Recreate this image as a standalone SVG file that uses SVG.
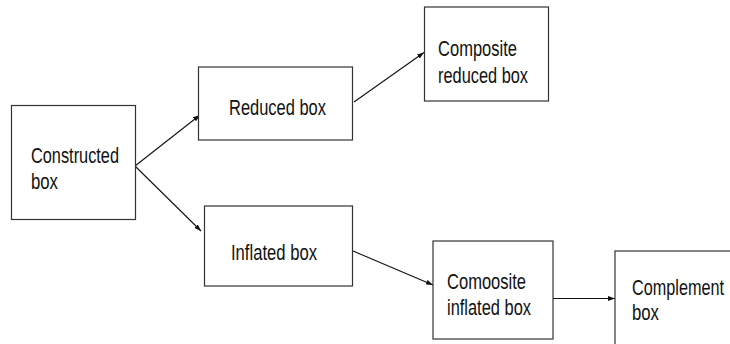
<svg xmlns="http://www.w3.org/2000/svg" width="730" height="344" viewBox="0 0 730 344">
  <defs>
    <marker id="arrow" viewBox="0 0 7 5" refX="7" refY="2.5" markerWidth="7" markerHeight="5" markerUnits="userSpaceOnUse" orient="auto">
      <path d="M0,0 L7,2.5 L0,5 z" fill="#111"/>
    </marker>
    <style>
      .box { fill: #fff; stroke: #333; stroke-width: 1.2; }
      .lbl { font-family: "Liberation Sans", Arial, Helvetica, sans-serif; font-size: 22.5px; fill: #111; }
      .edge { stroke: #111; stroke-width: 1.1; fill: none; marker-end: url(#arrow); }
    </style>
  </defs>
  <rect width="730" height="344" fill="#fff"/>

  <g id="connectors">
    <line class="edge" x1="135" y1="166" x2="200" y2="115"/>
    <line class="edge" x1="135" y1="166" x2="201" y2="231"/>
    <line class="edge" x1="354" y1="102" x2="424" y2="52.5"/>
    <line class="edge" x1="353" y1="251" x2="433" y2="285"/>
    <line class="edge" x1="553" y1="298.5" x2="615" y2="298.5"/>
  </g>

  <g id="constructed-box">
    <rect class="box" x="11.5" y="105.5" width="124" height="114"/>
    <text class="lbl" x="31" y="163" textLength="88" lengthAdjust="spacingAndGlyphs">Constructed</text>
    <text class="lbl" x="31" y="189" textLength="27" lengthAdjust="spacingAndGlyphs">box</text>
  </g>

  <g id="reduced-box">
    <rect class="box" x="198.5" y="67" width="154" height="73"/>
    <text class="lbl" x="229" y="115" textLength="97" lengthAdjust="spacingAndGlyphs">Reduced box</text>
  </g>

  <g id="composite-reduced-box">
    <rect class="box" x="424.5" y="7" width="124" height="94"/>
    <text class="lbl" x="438" y="56" textLength="79" lengthAdjust="spacingAndGlyphs">Composite</text>
    <text class="lbl" x="438" y="82.5" textLength="90" lengthAdjust="spacingAndGlyphs">reduced box</text>
  </g>

  <g id="inflated-box">
    <rect class="box" x="204.5" y="206" width="148" height="80"/>
    <text class="lbl" x="231" y="260" textLength="86" lengthAdjust="spacingAndGlyphs">Inflated box</text>
  </g>

  <g id="composite-inflated-box">
    <rect class="box" x="433" y="241" width="120" height="98"/>
    <text class="lbl" x="447" y="289" textLength="79" lengthAdjust="spacingAndGlyphs">Comoosite</text>
    <text class="lbl" x="447" y="315" textLength="84" lengthAdjust="spacingAndGlyphs">inflated box</text>
  </g>

  <!-- right and bottom sides fall just outside the canvas -->
  <g id="complement-box">
    <rect class="box" x="615" y="251" width="117" height="100"/>
    <text class="lbl" x="632" y="295" textLength="92" lengthAdjust="spacingAndGlyphs">Complement</text>
    <text class="lbl" x="632" y="320" textLength="27" lengthAdjust="spacingAndGlyphs">box</text>
  </g>
</svg>
